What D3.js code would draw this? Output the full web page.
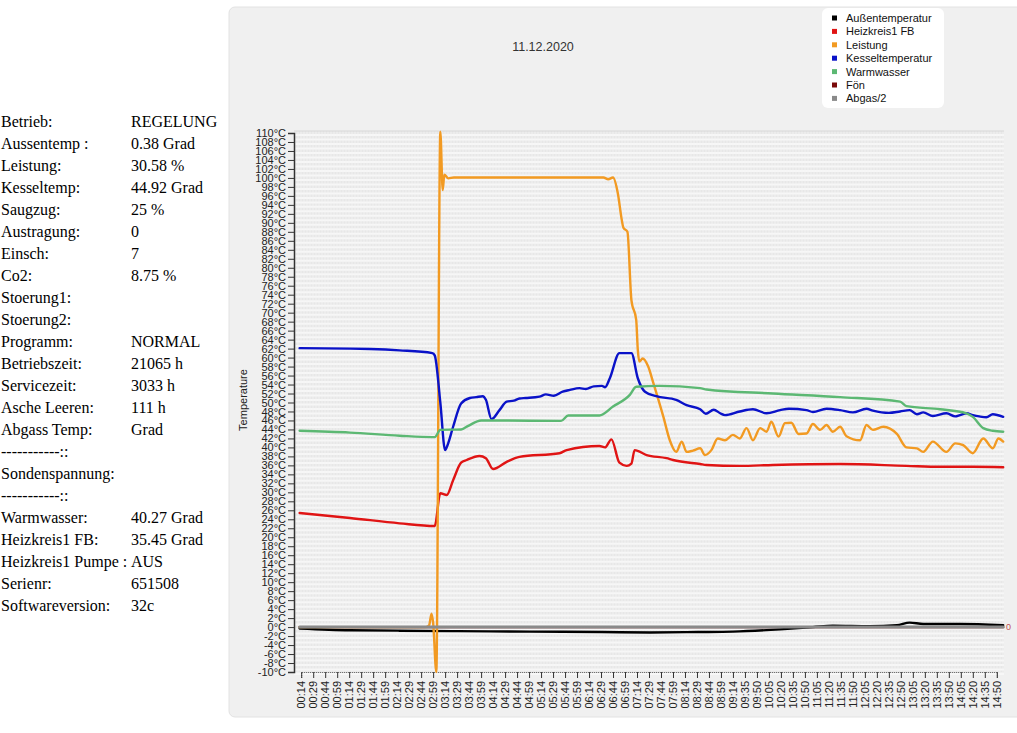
<!DOCTYPE html>
<html>
<head>
<meta charset="utf-8">
<script src="https://cdn.jsdelivr.net/npm/d3@7/dist/d3.min.js"></script>
<style>
  html, body { margin: 0; padding: 0; background: #ffffff; }
  svg { display: block; }
</style>
</head>
<body>
<svg id="chart" width="1017" height="733"></svg>
<script>
// ---------------- data ----------------
const infoLabels = ["Betrieb:", "Aussentemp :", "Leistung:", "Kesseltemp:", "Saugzug:", "Austragung:", "Einsch:", "Co2:", "Stoerung1:", "Stoerung2:", "Programm:", "Betriebszeit:", "Servicezeit:", "Asche Leeren:", "Abgass Temp:", "-----------::", "Sondenspannung:", "-----------::", "Warmwasser:", "Heizkreis1 FB:", "Heizkreis1 Pumpe :", "Serienr:", "Softwareversion:"];
const infoValues = ["REGELUNG", "0.38 Grad", "30.58 %", "44.92 Grad", "25 %", "0", "7", "8.75 %", "", "", "NORMAL", "21065 h", "3033 h", "111 h", "Grad", "", "", "", "40.27 Grad", "35.45 Grad", "AUS", "651508", "32c"];

const chartTitle = "11.12.2020";
const yAxisTitle = "Temperature";

const xTickLabels = ["00:14","00:29","00:44","00:59","01:14","01:29","01:44","01:59","02:14","02:29","02:44","02:59","03:14","03:29","03:44","03:59","04:14","04:29","04:44","04:59","05:14","05:29","05:44","05:59","06:14","06:29","06:44","06:59","07:14","07:29","07:44","07:59","08:14","08:29","08:44","08:59","09:14","09:35","09:50","10:05","10:20","10:35","10:50","11:05","11:20","11:35","11:50","12:05","12:20","12:35","12:50","13:05","13:20","13:35","13:50","14:05","14:20","14:35","14:50"];
const yTicks = d3.range(-10, 111, 2);

const seriesNames = ["Außentemperatur", "Heizkreis1 FB", "Leistung", "Kesseltemperatur", "Warmwasser", "Fön", "Abgas/2"];
const seriesColors = ["#000000", "#e01414", "#f29a22", "#0a12c8", "#5cb873", "#7a0a0a", "#8a8a8a"];

const aussenData = [["00:12",-0.3],["01:15",-0.7],["02:17",-0.8],["03:30",-0.9],["05:00",-1.0],["06:30",-1.1],["07:30",-1.2],["08:30",-1.1],["09:14",-1.0],["10:19",-0.5],["11:00",0.0],["11:25",0.3],["12:11",0.2],["12:45",0.4],["13:01",1.0],["13:18",0.7],["14:04",0.7],["14:58",0.4]];

const heizData = [["00:12",25.4],["01:15",24.3],["02:17",23.1],["03:01",22.5],["03:08",29.8],["03:16",29.4],["03:24",32.7],["03:34",36.6],["03:41",37.2],["03:57",38.1],["04:05",37.6],["04:14",35.2],["04:31",36.8],["04:47",37.9],["05:37",38.7],["05:46",39.4],["06:27",40.3],["06:34",40.0],["06:42",41.8],["06:52",36.6],["07:01",35.9],["07:07",36.4],["07:11",39.4],["07:26",38.3],["07:51",37.6],["07:59",37.2],["08:33",36.3],["08:41",36.1],["09:26",35.9],["10:10",36.1],["11:34",36.3],["12:57",35.9],["13:39",35.7],["14:20",35.7],["14:58",35.6]];

const leistungData = [["00:12",0],["02:50",0],["02:54",0.4],["02:57",3.0],["02:59",1.0],["03:03",-10],["03:08",110.3],["03:11",97.3],["03:13",100.7],["03:18",99.9],["03:25",100.1],["06:32",100.1],["06:38",99.7],["06:44",100.1],["06:50",96.6],["06:55",90.6],["06:57",88.9],["07:02",88.0],["07:07",72.8],["07:13",68.4],["07:15",61.7],["07:17",59.1],["07:21",59.8],["07:28",58.0],["07:34",54.6],["07:47",46.8],["07:55",41.6],["08:03",39.0],["08:10",41.3],["08:16",39.0],["08:24",39.3],["08:33",39.8],["08:39",38.3],["08:47",39.4],["08:55",42.0],["09:04",41.6],["09:14",42.8],["09:26",42.0],["09:37",44.3],["09:45",41.6],["09:54",44.3],["10:02",43.5],["10:08",45.7],["10:17",42.4],["10:25",45.4],["10:33",45.5],["10:42",43.0],["10:52",43.1],["11:00",45.2],["11:09",43.9],["11:17",45.0],["11:25",43.5],["11:34",44.6],["11:42",42.5],["11:59",41.6],["12:07",45.0],["12:15",43.9],["12:28",44.6],["12:45",43.0],["12:57",40.0],["13:10",39.8],["13:18",39.0],["13:30",41.3],["13:47",39.0],["13:58",40.9],["14:08",40.5],["14:20",38.7],["14:33",42.0],["14:45",39.8],["14:52",42.0],["14:58",41.3]];

const kesselData = [["00:12",62.1],["01:15",62.0],["01:40",61.9],["02:17",61.6],["02:58",61.0],["03:01",60.5],["03:08",50.0],["03:14",39.4],["03:17",40.5],["03:24",44.6],["03:34",49.8],["03:45",51.0],["03:53",51.2],["04:01",51.4],["04:05",50.6],["04:12",46.3],["04:22",48.3],["04:31",50.2],["04:40",50.4],["04:47",50.9],["04:55",51.0],["05:12",51.3],["05:20",51.8],["05:30",51.5],["05:41",52.4],["05:50",52.8],["06:02",53.2],["06:10",53.0],["06:20",53.6],["06:30",53.7],["06:34",53.4],["06:40",55.4],["06:52",61.0],["07:07",61.0],["07:15",55.4],["07:24",52.4],["07:38",51.4],["08:03",50.6],["08:16",49.4],["08:33",48.5],["08:40",47.5],["08:50",48.4],["08:58",47.6],["09:04",47.2],["09:26",48.0],["09:45",48.5],["10:02",47.6],["10:19",48.3],["10:30",48.6],["10:52",48.3],["11:00",47.9],["11:17",48.6],["11:34",48.3],["11:50",47.8],["12:07",48.6],["12:15",48.2],["12:35",47.7],["12:49",48.0],["13:01",48.3],["13:10",47.4],["13:18",47.8],["13:30",47.0],["13:47",47.6],["13:58",46.9],["14:04",47.2],["14:12",47.6],["14:20",47.2],["14:28",46.9],["14:37",46.7],["14:45",47.4],["14:58",46.8]];

const warmData = [["00:12",43.7],["01:15",43.3],["02:17",42.6],["02:58",42.3],["03:01",42.3],["03:08",43.9],["03:34",44.0],["03:43",44.8],["03:59",46.0],["04:22",46.0],["05:39",45.9],["05:48",47.1],["06:27",47.1],["06:44",49.1],["07:05",51.7],["07:13",53.5],["07:42",53.7],["08:33",53.2],["08:41",52.9],["10:10",52.0],["11:34",51.2],["12:49",50.2],["12:57",49.2],["13:39",48.5],["14:12",47.6],["14:20",46.8],["14:33",44.3],["14:45",43.7],["14:58",43.5]];

const foenData = [["00:12",0],["14:58",0]];
const abgasData = [["00:12",0],["14:58",0]];

const seriesData = [aussenData, heizData, leistungData, kesselData, warmData, foenData, abgasData];
const endLabel = "0";

// ---------------- layout ----------------
const svg = d3.select("#chart");
const font = "'Liberation Sans', Arial, sans-serif";

// info text block
const info = svg.append("g").attr("font-family", "'Liberation Serif', 'Times New Roman', serif").attr("font-size", 16).attr("fill", "#000");
infoLabels.forEach((t, i) => {
  info.append("text").attr("x", 1).attr("y", 127 + i * 22).text(t);
  if (infoValues[i]) info.append("text").attr("x", 131).attr("y", 127 + i * 22).text(infoValues[i]);
});

// panel
svg.append("rect").attr("x", 229).attr("y", 7).attr("width", 800).attr("height", 710)
  .attr("rx", 6).attr("fill", "#f0f0f0").attr("stroke", "#e2e2e2");

const plot = { left: 294, right: 1004, top: 131, bottom: 672 };

const toMin = s => { const [h, m] = s.split(":").map(Number); return h * 60 + m; };
const pt = d3.scalePoint().domain(xTickLabels).range([plot.left, plot.right]).padding(0.6);
const x = d3.scaleLinear().domain(xTickLabels.map(toMin)).range(xTickLabels.map(t => pt(t)));
const y = d3.scaleLinear().domain([-10, 110]).range([plot.bottom, plot.top + 2]);

// plot background with fine grid pattern
svg.append("rect").attr("x", plot.left).attr("y", plot.top).attr("width", plot.right - plot.left)
  .attr("height", plot.bottom - plot.top).attr("fill", "#e7e7e7");
const grid = svg.append("g");
d3.range(-10, 110.5, 1).forEach(v => {
  grid.append("line").attr("x1", plot.left).attr("x2", plot.right).attr("y1", y(v) + 2).attr("y2", y(v) + 2)
    .attr("stroke", "#f7f7f7").attr("stroke-width", 2);
});
for (let px = plot.left + 1; px < plot.right; px += 3) {
  grid.append("line").attr("x1", px).attr("x2", px).attr("y1", plot.top).attr("y2", plot.bottom)
    .attr("stroke", "#f5f5f5").attr("stroke-width", 1).attr("opacity", 0.8);
}
svg.append("line").attr("x1", plot.left).attr("x2", plot.right).attr("y1", plot.top).attr("y2", plot.top)
  .attr("stroke", "#d8d8d8");

// y axis
const yAxis = svg.append("g").attr("transform", `translate(${plot.left},0)`)
  .call(d3.axisLeft(y).tickValues(yTicks).tickFormat(d => d + "°C").tickSize(6).tickPadding(2));
yAxis.select(".domain").attr("stroke", "#333").attr("stroke-width", 1.5);
yAxis.selectAll(".tick line").attr("stroke", "#333");
yAxis.selectAll("text").attr("font-family", font).attr("font-size", 11).attr("fill", "#222");

// x axis
const xAxis = svg.append("g").attr("transform", `translate(0,${plot.bottom})`)
  .call(d3.axisBottom(x).tickValues(xTickLabels.map(toMin))
    .tickFormat((d, i) => xTickLabels[i]).tickSize(6));
xAxis.select(".domain").attr("stroke", "#555").attr("stroke-dasharray", "1,1");
xAxis.selectAll(".tick line").attr("stroke", "#333");
xAxis.selectAll("text").attr("font-family", font).attr("font-size", 11).attr("fill", "#222")
  .attr("transform", "rotate(-90)").attr("text-anchor", "end").attr("dy", "0.32em").attr("x", -9).attr("y", 0);

// y axis title
svg.append("text").attr("transform", `translate(247,400) rotate(-90)`).attr("text-anchor", "middle")
  .attr("font-family", font).attr("font-size", 11).attr("fill", "#222").text(yAxisTitle);

// title
svg.append("text").attr("x", 543).attr("y", 51).attr("text-anchor", "middle")
  .attr("font-family", font).attr("font-size", 12.5).attr("fill", "#333").text(chartTitle);

// lines
const line = d3.line().x(d => x(toMin(d[0]))).y(d => y(d[1])).curve(d3.curveMonotoneX);
const lines = svg.append("g").attr("fill", "none").attr("stroke-linejoin", "round").attr("stroke-linecap", "round");
const drawOrder = [5, 0, 1, 2, 3, 4, 6];
drawOrder.forEach(i => {
  lines.append("path").attr("d", line(seriesData[i])).attr("stroke", seriesColors[i])
    .attr("stroke-width", i === 6 ? 3 : 2.4);
});

// end label
svg.append("text").attr("x", plot.right + 2).attr("y", y(0) + 3).attr("font-family", font)
  .attr("font-size", 9).attr("fill", "#c05050").text(endLabel);

// legend
const lg = svg.append("g");
lg.append("rect").attr("x", 822).attr("y", 8).attr("width", 122).attr("height", 100).attr("rx", 6)
  .attr("fill", "#ffffff");
seriesNames.forEach((n, i) => {
  const yy = 18 + i * 13.4;
  lg.append("rect").attr("x", 832).attr("y", yy - 2.5).attr("width", 5).attr("height", 5).attr("fill", seriesColors[i]);
  lg.append("text").attr("x", 846).attr("y", yy + 4).attr("font-family", font).attr("font-size", 11)
    .attr("fill", "#111").text(n);
});
</script>
</body>
</html>
